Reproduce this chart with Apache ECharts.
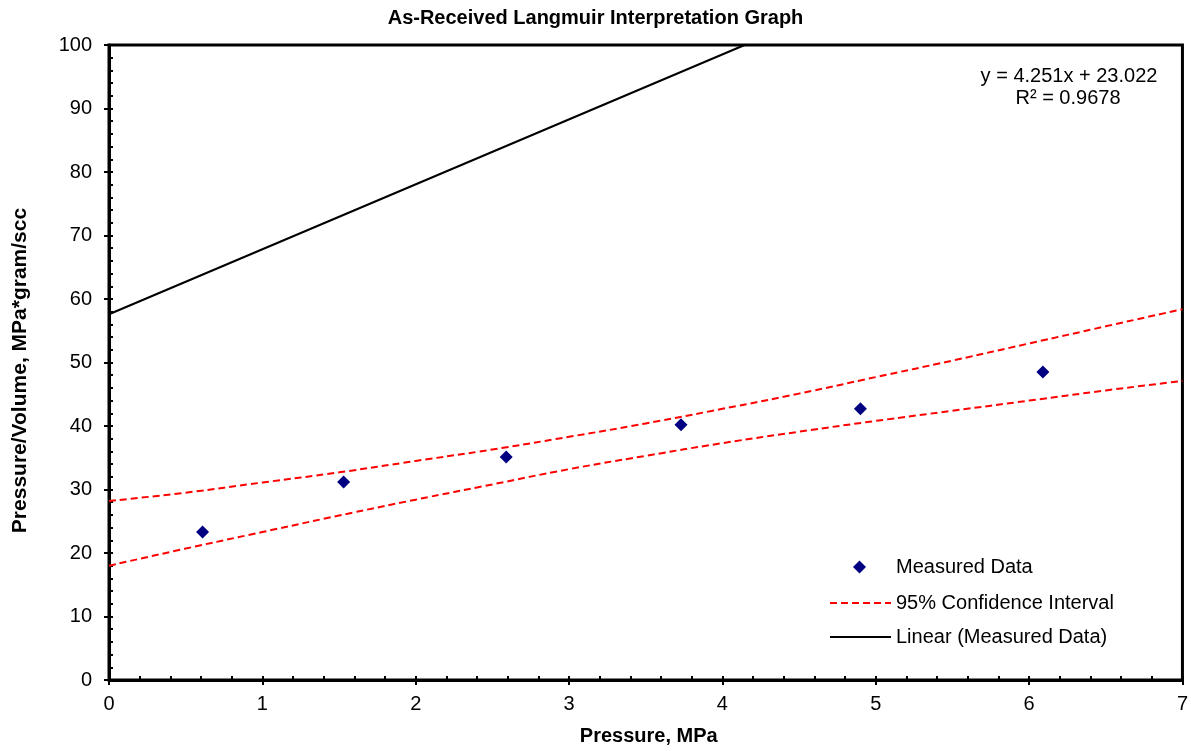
<!DOCTYPE html>
<html>
<head>
<meta charset="utf-8">
<script src="https://cdn.jsdelivr.net/npm/echarts@6/dist/echarts.min.js"></script>
<style>html,body{margin:0;padding:0;background:#fff;}#chart{width:1191px;height:751px;}</style>
</head>
<body>
<div id="chart"></div>
<script>
// Measured data (Pressure MPa, Pressure/Volume)
const measuredX = [0.61, 1.53, 2.59, 3.73, 4.90, 6.09];
const measuredY = [23.3, 31.2, 35.1, 40.2, 42.7, 48.5];
// 95% confidence interval curves, read along x
const ciX = [0, 0.5, 1, 1.5, 2, 2.5, 3, 3.5, 4, 4.5, 5, 5.5, 6, 6.5, 7];
const ciUpper = [28.2, 29.5, 31.1, 32.7, 34.5, 36.3, 38.3, 40.4, 42.7, 45.1, 47.7, 50.3, 53.0, 55.7, 58.4];
const ciLower = [18.0, 20.7, 23.3, 25.9, 28.4, 30.8, 33.2, 35.3, 37.3, 39.1, 40.8, 42.4, 44.0, 45.6, 47.1];
// Linear trend line as drawn
const linearX = [0, 4.145];
const linearY = [57.6, 100];
const xTicks = [0, 1, 2, 3, 4, 5, 6, 7];
const yTicks = [0, 10, 20, 30, 40, 50, 60, 70, 80, 90, 100];
const titleText = 'As-Received Langmuir Interpretation Graph';
const equationText = 'y = 4.251x + 23.022';
const r2Text = 'R² = 0.9678';

const FONT = '"Liberation Sans", Arial, Helvetica, sans-serif';
const zip = (a, b) => a.map((v, i) => [v, b[i]]);

const chart = echarts.init(document.getElementById('chart'), null, {renderer: 'canvas'});
chart.setOption({
  animation: false,
  backgroundColor: '#fff',
  textStyle: {fontFamily: FONT},
  title: {
    text: titleText, left: 'center', top: 3,
    textStyle: {fontFamily: FONT, fontSize: 20, fontWeight: 'bold', color: '#000'}
  },
  grid: {left: 109, right: 8, top: 45, bottom: 71, show: true, borderColor: '#000', borderWidth: 3, backgroundColor: '#fff'},
  legend: [{
    orient: 'vertical', left: 848, top: 552, itemWidth: 13, itemHeight: 13,
    textStyle: {fontFamily: FONT, fontSize: 20, color: '#000', padding: [0, 0, 0, 25]},
    data: [{name: 'Measured Data', icon: 'diamond'}]
  }, {
    orient: 'vertical', left: 824, top: 588, itemGap: 14, itemWidth: 61, itemHeight: 14,
    textStyle: {fontFamily: FONT, fontSize: 20, color: '#000'},
    data: [
      {name: '95% Confidence Interval', itemStyle: {opacity: 0}},
      {name: 'Linear (Measured Data)', itemStyle: {opacity: 0}}
    ]
  }],
  xAxis: [{
    type: 'value', min: xTicks[0], max: xTicks[xTicks.length - 1], interval: 1,
    name: 'Pressure, MPa', nameLocation: 'middle', nameGap: 46,
    nameTextStyle: {fontFamily: FONT, fontSize: 20, fontWeight: 'bold', color: '#000', padding: [0, 0, 0, 6]},
    axisLine: {show: true, lineStyle: {color: '#000', width: 3}},
    axisTick: {show: true, inside: false, length: 5, lineStyle: {color: '#000', width: 2}},
    axisLabel: {fontFamily: FONT, fontSize: 20, color: '#000', margin: 14},
    splitLine: {show: false}
  }, {
    type: 'value', min: 0, max: 7, interval: 0.2, position: 'bottom',
    axisLine: {show: false}, axisLabel: {show: false}, splitLine: {show: false},
    axisTick: {show: true, inside: true, length: 4, lineStyle: {color: '#000', width: 2}}
  }],
  yAxis: [{
    type: 'value', min: yTicks[0], max: yTicks[yTicks.length - 1], interval: 10,
    name: 'Pressure/Volume, MPa*gram/scc', nameLocation: 'middle', nameGap: 78,
    nameTextStyle: {fontFamily: FONT, fontSize: 21, fontWeight: 'bold', color: '#000', padding: [0, 16, 0, 0]},
    axisLine: {show: true, lineStyle: {color: '#000', width: 3}},
    axisTick: {show: true, inside: false, length: 5, lineStyle: {color: '#000', width: 2}},
    axisLabel: {fontFamily: FONT, fontSize: 20, color: '#000', margin: 17},
    splitLine: {show: false}
  }, {
    type: 'value', min: 0, max: 100, interval: 2, position: 'left',
    axisLine: {show: false}, axisLabel: {show: false}, splitLine: {show: false},
    axisTick: {show: true, inside: true, length: 4, lineStyle: {color: '#000', width: 2}}
  }],
  graphic: [{
    type: 'text', x: 1069, y: 76,
    style: {text: equationText, fontFamily: FONT, fontSize: 20, fill: '#000', align: 'center', verticalAlign: 'middle'}
  }, {
    type: 'text', x: 1068, y: 98,
    style: {text: r2Text, fontFamily: FONT, fontSize: 20, fill: '#000', align: 'center', verticalAlign: 'middle'}
  }],
  series: [{
    name: 'Linear (Measured Data)', type: 'line', data: zip(linearX, linearY),
    symbol: 'none', clip: true, lineStyle: {color: '#000', width: 2}, itemStyle: {color: '#000'}, z: 3
  }, {
    name: '95% Confidence Interval', type: 'line', data: zip(ciX, ciUpper), smooth: true,
    symbol: 'none', lineStyle: {color: '#ff0000', width: 2, type: [7, 4]}, itemStyle: {color: '#ff0000'}, z: 3
  }, {
    name: '95% Confidence Interval', type: 'line', data: zip(ciX, ciLower), smooth: true,
    symbol: 'none', lineStyle: {color: '#ff0000', width: 2, type: [7, 4]}, itemStyle: {color: '#ff0000'}, z: 3
  }, {
    name: 'Measured Data', type: 'scatter', data: zip(measuredX, measuredY),
    symbol: 'diamond', symbolSize: 13, itemStyle: {color: '#000080', opacity: 1}, z: 4
  }]
});
</script>
</body>
</html>
